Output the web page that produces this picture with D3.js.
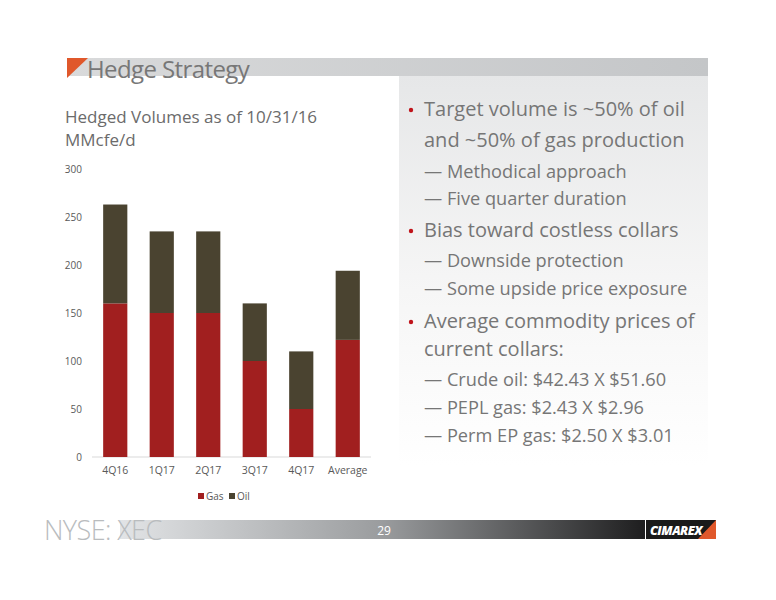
<!DOCTYPE html>
<html><head><meta charset="utf-8">
<script src="https://cdn.jsdelivr.net/npm/d3@7"></script>
<style>body{margin:0;background:#fff}svg{display:block}</style>
</head><body>
<svg id="c" width="776" height="600"></svg>
<script>
const categories = ["4Q16","1Q17","2Q17","3Q17","4Q17","Average"];
const gasValues = [160,150,150,100,50,122];
const oilValues = [103,85,85,60,60,72];
const yTicks = [0,50,100,150,200,250,300];
const seriesNames = ["Gas","Oil"];
const seriesColors = ["#A11F1F","#4A4330"];
const bulletLines = [
  {type:"b", text:"Target volume is ~50% of oil"},
  {type:"c", text:"and ~50% of gas production"},
  {type:"d", text:"Methodical approach"},
  {type:"d", text:"Five quarter duration"},
  {type:"b", text:"Bias toward costless collars"},
  {type:"d", text:"Downside protection"},
  {type:"d", text:"Some upside price exposure"},
  {type:"b", text:"Average commodity prices of"},
  {type:"c", text:"current collars:"},
  {type:"d", text:"Crude oil: $42.43 X $51.60"},
  {type:"d", text:"PEPL gas: $2.43 X $2.96"},
  {type:"d", text:"Perm EP gas: $2.50 X $3.01"}
];
const lineY = [116,147,178,205,237,267,295,328,356,386,414,442];

const svg = d3.select("#c");
const defs = svg.append("defs");
const font = "'Open Sans', 'Noto Sans', sans-serif";

// header bar
const hg = defs.append("linearGradient").attr("id","hg");
hg.append("stop").attr("offset","0").attr("stop-color","#d9dadb");
hg.append("stop").attr("offset","1").attr("stop-color","#c4c6c8");
svg.append("rect").attr("x",67).attr("y",58).attr("width",641).attr("height",18).attr("fill","url(#hg)");
// right panel gradient
const pg = defs.append("linearGradient").attr("id","pg").attr("x1",0).attr("y1",0).attr("x2",0).attr("y2",1);
pg.append("stop").attr("offset","0").attr("stop-color","#e6e7e8");
pg.append("stop").attr("offset","0.55").attr("stop-color","#f6f6f6");
pg.append("stop").attr("offset","1").attr("stop-color","#ffffff");
svg.append("rect").attr("x",399).attr("y",76).attr("width",309).attr("height",390).attr("fill","url(#pg)");
// orange triangle
svg.append("path").attr("d","M67,58 L88,58 L67,78 Z").attr("fill","#E0582B");
svg.append("text").attr("x",87).attr("y",78).attr("font-family",font).attr("font-size",24)
  .attr("fill","#777").attr("letter-spacing","-0.6").text("Hedge Strategy");

// subtitle
svg.append("text").attr("x",65).attr("y",123).attr("font-family",font).attr("font-size",17).attr("fill","#6b6b6b").text("Hedged Volumes as of 10/31/16");
svg.append("text").attr("x",65).attr("y",146).attr("font-family",font).attr("font-size",17).attr("fill","#6b6b6b").text("MMcfe/d");

// chart
const x = d3.scaleBand().domain(categories).range([92,371]).paddingInner(0.48).paddingOuter(0.24);
const y = d3.scaleLinear().domain([0,300]).range([457,169]);
const data = categories.map((c,i)=>({cat:c, Gas:gasValues[i], Oil:oilValues[i]}));
const stacked = d3.stack().keys(seriesNames)(data);

const yAxis = svg.append("g").attr("transform","translate(92,0)")
  .call(d3.axisLeft(y).tickValues(yTicks).tickSize(0).tickPadding(10));
yAxis.select(".domain").remove();
yAxis.selectAll("text").attr("font-family",font).attr("font-size",10).attr("fill","#595959");

svg.append("line").attr("x1",92).attr("x2",371).attr("y1",y(0)).attr("y2",y(0)).attr("stroke","#d9d9d9");

svg.append("g").selectAll("g").data(stacked).join("g").attr("fill",(d,i)=>seriesColors[i])
  .selectAll("rect").data(d=>d).join("rect")
  .attr("x",d=>x(d.data.cat)).attr("width",x.bandwidth())
  .attr("y",d=>y(d[1])).attr("height",d=>y(d[0])-y(d[1]));

const xAxis = svg.append("g").attr("transform",`translate(0,${y(0)})`)
  .call(d3.axisBottom(x).tickSize(0).tickPadding(10));
xAxis.select(".domain").remove();
xAxis.selectAll("text").attr("font-family",font).attr("font-size",10.5).attr("fill","#595959");

// legend
const lg = svg.append("g").attr("transform","translate(198,497)");
const lx = [0,31];
seriesNames.forEach((n,i)=>{
  lg.append("rect").attr("x",lx[i]).attr("y",-4).attr("width",6).attr("height",6).attr("fill",seriesColors[i]);
  lg.append("text").attr("x",lx[i]+8).attr("y",2.5).attr("font-family",font).attr("font-size",10).attr("fill","#595959").text(n);
});

// bullets
const bt = svg.append("g").attr("font-family",font).attr("fill","#767676");
bulletLines.forEach((l,i)=>{
  if(l.type==="b"){
    bt.append("circle").attr("cx",411).attr("cy",lineY[i]-6).attr("r",2.2).attr("fill","#C0141B");
  }
  if(l.type==="d"){
    bt.append("text").attr("x",424).attr("y",lineY[i]).attr("font-size",18.2).text("\u2014 "+l.text);
  } else {
    bt.append("text").attr("x",424).attr("y",lineY[i]).attr("font-size",20).text(l.text);
  }
});

// footer
const fg = defs.append("linearGradient").attr("id","fg");
fg.append("stop").attr("offset","0").attr("stop-color","#e2e4e6");
fg.append("stop").attr("offset","0.5").attr("stop-color","#9a9c9e");
fg.append("stop").attr("offset","1").attr("stop-color","#1e1e1f");
svg.append("rect").attr("x",120).attr("y",520).attr("width",525).attr("height",19).attr("fill","url(#fg)");
svg.append("text").attr("x",44).attr("y",540).attr("font-family",font).attr("font-size",27).attr("font-weight",300)
  .attr("fill","#b9bcbe").attr("letter-spacing","-0.6").text("NYSE: XEC");
svg.append("text").attr("x",384).attr("y",535).attr("text-anchor","middle").attr("font-family",font).attr("font-size",12).attr("fill","#ffffff").text("29");
svg.append("rect").attr("x",646).attr("y",520).attr("width",70).attr("height",19).attr("fill","#1a1a1a");
svg.append("path").attr("d","M716,520 L716,539 L698,539 Z").attr("fill","#E0582B");
svg.append("text").attr("x",650).attr("y",535).attr("font-family",font).attr("font-size",12.5).attr("font-weight",800)
  .attr("font-style","italic").attr("fill","#fff").attr("letter-spacing","-0.5").text("CIMAREX");
</script>
</body></html>
